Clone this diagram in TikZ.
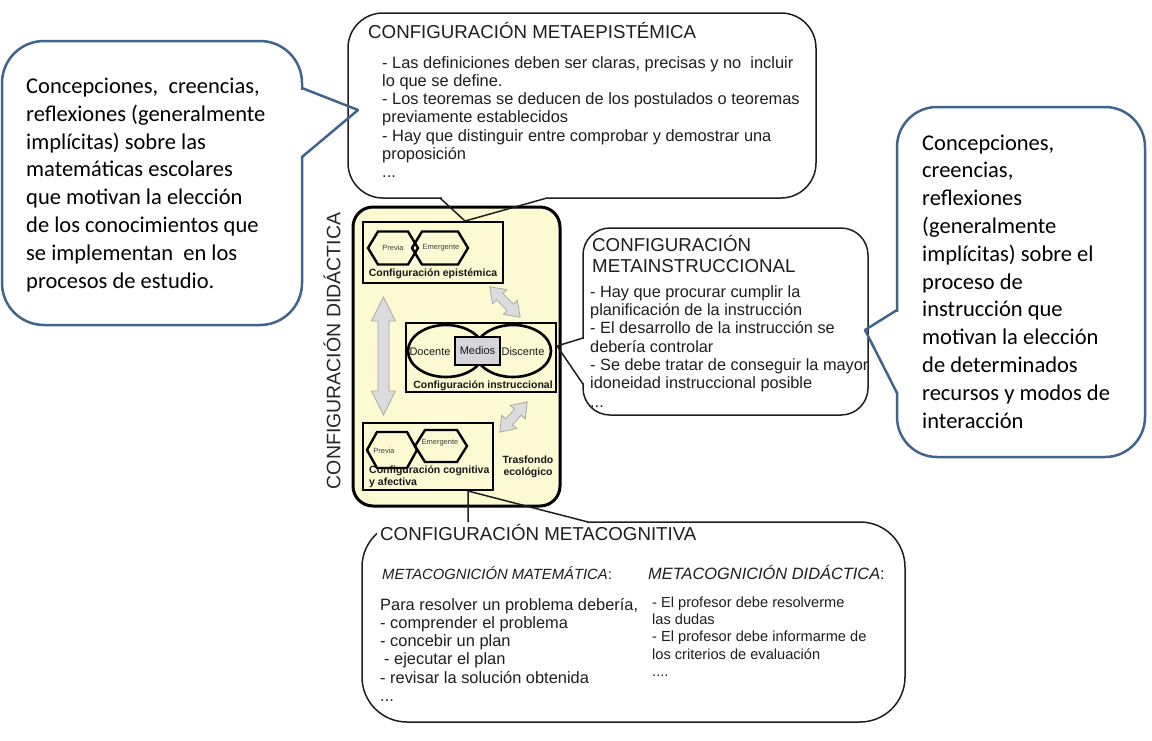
\documentclass[tikz,border=0pt]{standalone}
\usepackage{fontspec}
\setmainfont{Liberation Sans}
\newfontfamily\calibfont{Carlito}
\definecolor{bluec}{HTML}{41648F}
\definecolor{yel}{HTML}{FDF9D3}
\definecolor{arrg}{HTML}{DCDCDC}
\definecolor{arro}{HTML}{A8A8A8}
\definecolor{medg}{HTML}{D6D6DA}
\definecolor{inkc}{HTML}{1E1E1E}
\newcommand\fsz[2]{\fontsize{#1}{#2}\selectfont}
\newcommand\hexag[5]{\draw[hexa] ({#1-#3},#2) -- ({#1-#4},{#2-#5}) -- ({#1+#4},{#2-#5}) -- ({#1+#3},#2) -- ({#1+#4},{#2+#5}) -- ({#1-#4},{#2+#5}) -- cycle;}
% cx cy angle length shafthalf headhalf headlen
\newcommand\dblarr[7]{\begin{scope}[shift={(#1,#2)},rotate=#3]
\filldraw[grayarrow] ({-#4/2},0) -- ({-#4/2+#7},{#6}) -- ({-#4/2+#7},{#5}) -- ({#4/2-#7},{#5}) -- ({#4/2-#7},{#6}) -- ({#4/2},0) -- ({#4/2-#7},{-#6}) -- ({#4/2-#7},{-#5}) -- ({-#4/2+#7},{-#5}) -- ({-#4/2+#7},{-#6}) -- cycle;
\end{scope}}
\begin{document}
\begin{tikzpicture}[x=1pt,y=-1pt,
  bluebox/.style={draw=bluec,line width=2.5pt,fill=white},
  blueline/.style={draw=bluec,line width=2.5pt,line join=round},
  blackbox/.style={draw=inkc,line width=1.5pt,fill=white},
  callline/.style={draw=inkc,line width=1.5pt,line join=round},
  hexa/.style={draw=black,line width=2.4pt,line join=miter},
  thinbox/.style={draw=black,line width=1.5pt},
  grayarrow/.style={fill=arrg,draw=arro,line width=0.8pt},
  smalllab/.style={font=\fsz{7.5}{9},text=black!75,inner sep=0},
  boldlab/.style={font=\bfseries\fsz{10.5}{12},text=black!90,inner sep=0},
  midlab/.style={font=\fsz{11}{13},text=black!90,inner sep=0},
  ctitle/.style={font=\fsz{18.7}{21.5},text=inkc,inner sep=0},
  cbody/.style={font=\fsz{16.4}{18.2},text=inkc,inner sep=0,align=left,anchor=north west},
  bluetext/.style={font=\calibfont\fsz{22.5}{27.9},text=black,inner sep=0,align=left,anchor=north west}]
\useasboundingbox (0,0) rectangle (1152,740);

% ---------- black callouts (boxes) ----------
\path[blackbox,rounded corners=35] (348,13) rectangle (816,198);
\fill[white] (441.5,195) rectangle (545.5,201.5);
\path[blackbox,rounded corners=27] (583,228) rectangle (868,415);
\fill[white] (579.5,339) rectangle (586.5,383);
\path[blackbox,rounded corners=45] (362,522) rectangle (905,722);
\fill[white] (377,518) rectangle (586.5,535);

% ---------- central didactic configuration ----------
\draw[line width=3pt,fill=yel,rounded corners=20] (353,207) rectangle (560,506);
\node[rotate=90,font=\fsz{19.5}{22},text=black!85] (cdid) at (332,351) {CONFIGURACIÓN DIDÁCTICA};

% epistemic
\draw[thinbox] (363,222) rectangle (503,283);
\hexag{393}{248}{25}{15}{16.5}
\hexag{440}{248}{28}{18}{16.5}
\node[smalllab] (ep1) at (393,248) {Previa};
\node[smalllab] (ep2) at (441,248) {Emergente};
\node[boldlab] (epl) at (433,274) {Configuración epistémica};

% instructional
\draw[thinbox] (406,323) rectangle (556,392);
\draw[line width=2.6pt] (446,351) ellipse [x radius=38, y radius=26];
\draw[line width=2.6pt] (513,351) ellipse [x radius=38, y radius=26];
\node[draw=black,line width=2.6pt,fill=medg,minimum width=45,minimum height=28,inner sep=0,midlab] (med) at (477.5,351) {Medios};
\node[midlab] (doc) at (430,352) {Docente};
\node[midlab] (dis) at (523,352) {Discente};
\node[boldlab] (insl) at (483,386) {Configuración instruccional};

% cognitive
\draw[thinbox] (363,423) rectangle (493,490);
\hexag{392}{450}{25}{15}{18}
\hexag{441}{446}{26}{16}{16}
\node[smalllab] (cg1) at (384,451) {Previa};
\node[smalllab] (cg2) at (440,443) {Emergente};
\node[boldlab,align=left,anchor=north west,font=\bfseries\fsz{10.5}{12}] (cgl) at (369,466) {Configuración cognitiva\\y afectiva};
\node[boldlab,align=center,font=\bfseries\fsz{10.5}{12}] (tras) at (528,467) {Trasfondo\\ecológico};

% gray double arrows
\dblarr{383.5}{356}{90}{118}{5.5}{12}{24}
\dblarr{505}{302}{-45}{43}{4.5}{10}{14}
\dblarr{513.5}{417}{48}{41}{4.5}{10}{14}

% ---------- callout texts ----------
\node[ctitle,anchor=base west] (t1) at (368,38) {CONFIGURACIÓN METAEPISTÉMICA};
\node[cbody] (b1) at (382,55.3) {\strut- Las definiciones deben ser claras, precisas y no\ \ incluir\\lo que se define.\\- Los teoremas se deducen de los postulados o teoremas\\previamente establecidos\\- Hay que distinguir entre comprobar y demostrar una\\proposición\\...};

\node[ctitle,anchor=north west,align=left,font=\fsz{18.7}{21}] (t2) at (592,235.3) {\strut CONFIGURACIÓN\\METAINSTRUCCIONAL};
\node[cbody,font=\fsz{16.3}{18.3}] (b2) at (590,284.2) {\strut- Hay que procurar cumplir la\\planificación de la instrucción\\- El desarrollo de la instrucción se\\debería controlar\\- Se debe tratar de conseguir la mayor\\idoneidad instruccional posible\\...};

\node[ctitle,anchor=base west] (t3) at (380,540) {CONFIGURACIÓN METACOGNITIVA};
\node[anchor=base west,inner sep=0,text=inkc,font=\itshape\fsz{14.8}{18}] (h1) at (382,579) {METACOGNICIÓN MATEMÁTICA\upshape:};
\node[anchor=base west,inner sep=0,text=inkc,font=\itshape\fsz{16.4}{18}] (h2) at (648,579) {METACOGNICIÓN DIDÁCTICA\upshape:};
\node[cbody,font=\fsz{16.4}{18.2}] (b3) at (380,597.3) {\strut Para resolver un problema debería,\\- comprender el problema\\- concebir un plan\\\hspace{4pt}- ejecutar el plan\\- revisar la solución obtenida\\...};
\node[cbody,font=\fsz{14.6}{17.3}] (b4) at (652,594.9) {\strut- El profesor debe resolverme\\las dudas\\- El profesor debe informarme de\\los criterios de evaluación\\....};

% ---------- callout pointers ----------
\coordinate (p1) at (465,221);
\coordinate (p2) at (557,346);
\coordinate (p3) at (468,491);
\draw[callline] (440,198) -- (p1) -- (547,198);
\draw[callline] (583,338) -- (p2) -- (583,384);
\draw[callline] (468,522) -- (p3) -- (588,522);

% ---------- blue callouts ----------
\path[bluebox,rounded corners=42] (2,41) rectangle (302,325);
\fill[white] (298.5,89.5) rectangle (305.5,155.5);
\coordinate (q1) at (358,110);
\draw[blueline] (302,88) -- (q1) -- (302,157);
\node[bluetext] (lt) at (26,73.5) {\strut Concepciones,\ \ creencias,\\reflexiones (generalmente\\implícitas) sobre las\\matemáticas escolares\\que motivan la elección\\de los conocimientos que\\se implementan\ \ en los\\procesos de estudio.};

\path[bluebox,rounded corners=40] (897,107) rectangle (1145,457);
\fill[white] (893.5,311.5) rectangle (900.5,391.5);
\coordinate (q2) at (865,330);
\draw[blueline] (897,310) -- (q2) -- (897,393);
\node[bluetext,font=\calibfont\fsz{22.5}{27.8}] (rt) at (922,130.5) {\strut Concepciones,\\creencias,\\reflexiones\\(generalmente\\implícitas) sobre el\\proceso de\\instrucción que\\motivan la elección\\de determinados\\recursos y modos de\\interacción};
\end{tikzpicture}
\end{document}
